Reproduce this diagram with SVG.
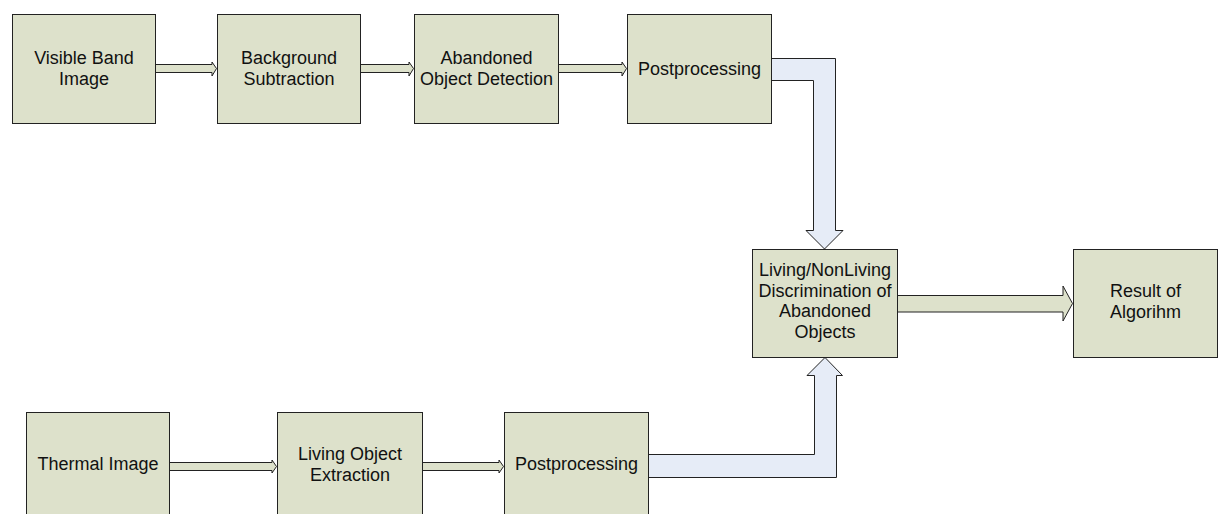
<svg xmlns="http://www.w3.org/2000/svg" width="1224" height="514" viewBox="0 0 1224 514">
  <style>
    .box { fill: #dde1cb; stroke: #222; stroke-width: 1; }
    .lbl { font-family: "Liberation Sans", Arial, sans-serif; font-size: 18px; fill: #111; text-anchor: middle; }
    .thin { fill: #dde1cb; stroke: #222; stroke-width: 1; stroke-linejoin: miter; }
    .fat { fill: #e6ecf7; stroke: #222; stroke-width: 1; stroke-linejoin: miter; }
  </style>
  <rect width="1224" height="514" fill="#fff"/>

  <g id="connectors">
    <!-- narrow block arrows between pipeline stages -->
    <path class="thin" d="M155.5,64.5 H212 V62 L216.5,68.5 L212,76 V72.5 H155.5 Z"/>
    <path class="thin" d="M360.5,64.5 H409 V62 L413.5,68.5 L409,76 V72.5 H360.5 Z"/>
    <path class="thin" d="M558.5,64.5 H622 V62 L626.5,68.5 L622,76 V72.5 H558.5 Z"/>
    <path class="thin" d="M169.5,462.5 H272 V460 L276.5,466.5 L272,473 V470.5 H169.5 Z"/>
    <path class="thin" d="M422.5,462.5 H499 V460 L503.5,466.5 L499,473 V470.5 H422.5 Z"/>
    <!-- wide arrow to result -->
    <path class="thin" d="M897.5,295.5 H1063 V286 L1072.5,303.5 L1063,321 V312 H897.5 Z"/>
    <!-- elbow arrows into discrimination stage -->
    <path class="fat" d="M771.5,58.5 H835.5 V230.5 H843 L824.5,249 L806,230.5 H813.5 V80.5 H771.5 Z"/>
    <path class="fat" d="M648.5,477.5 H836.5 V375.5 H842.5 L825,357.5 L807,375.5 H814.5 V454.5 H648.5 Z"/>
  </g>

  <g id="visible-band">
    <rect class="box" x="12.5" y="14.5" width="143" height="109"/>
    <text class="lbl" x="84" y="64">Visible Band</text>
    <text class="lbl" x="84" y="85">Image</text>
  </g>
  <g id="background-subtraction">
    <rect class="box" x="217.5" y="14.5" width="143" height="109"/>
    <text class="lbl" x="289" y="64">Background</text>
    <text class="lbl" x="289" y="85">Subtraction</text>
  </g>
  <g id="abandoned-detection">
    <rect class="box" x="414.5" y="14.5" width="144" height="109"/>
    <text class="lbl" x="486.5" y="64">Abandoned</text>
    <text class="lbl" x="486.5" y="85">Object Detection</text>
  </g>
  <g id="postprocessing-visible">
    <rect class="box" x="627.5" y="14.5" width="144" height="109"/>
    <text class="lbl" x="699.5" y="75">Postprocessing</text>
  </g>
  <g id="discrimination">
    <rect class="box" x="752.5" y="249.5" width="145" height="108"/>
    <text class="lbl" x="825" y="276">Living/NonLiving</text>
    <text class="lbl" x="825" y="297">Discrimination of</text>
    <text class="lbl" x="825" y="317">Abandoned</text>
    <text class="lbl" x="825" y="338">Objects</text>
  </g>
  <g id="result">
    <rect class="box" x="1073.5" y="249.5" width="144" height="108"/>
    <text class="lbl" x="1145.5" y="297">Result of</text>
    <text class="lbl" x="1145.5" y="318">Algorihm</text>
  </g>
  <g id="thermal">
    <rect class="box" x="26.5" y="412.5" width="143" height="109"/>
    <text class="lbl" x="98" y="470">Thermal Image</text>
  </g>
  <g id="living-extraction">
    <rect class="box" x="277.5" y="412.5" width="145" height="109"/>
    <text class="lbl" x="350" y="460">Living Object</text>
    <text class="lbl" x="350" y="481">Extraction</text>
  </g>
  <g id="postprocessing-thermal">
    <rect class="box" x="504.5" y="412.5" width="144" height="109"/>
    <text class="lbl" x="576.5" y="470">Postprocessing</text>
  </g>
</svg>
